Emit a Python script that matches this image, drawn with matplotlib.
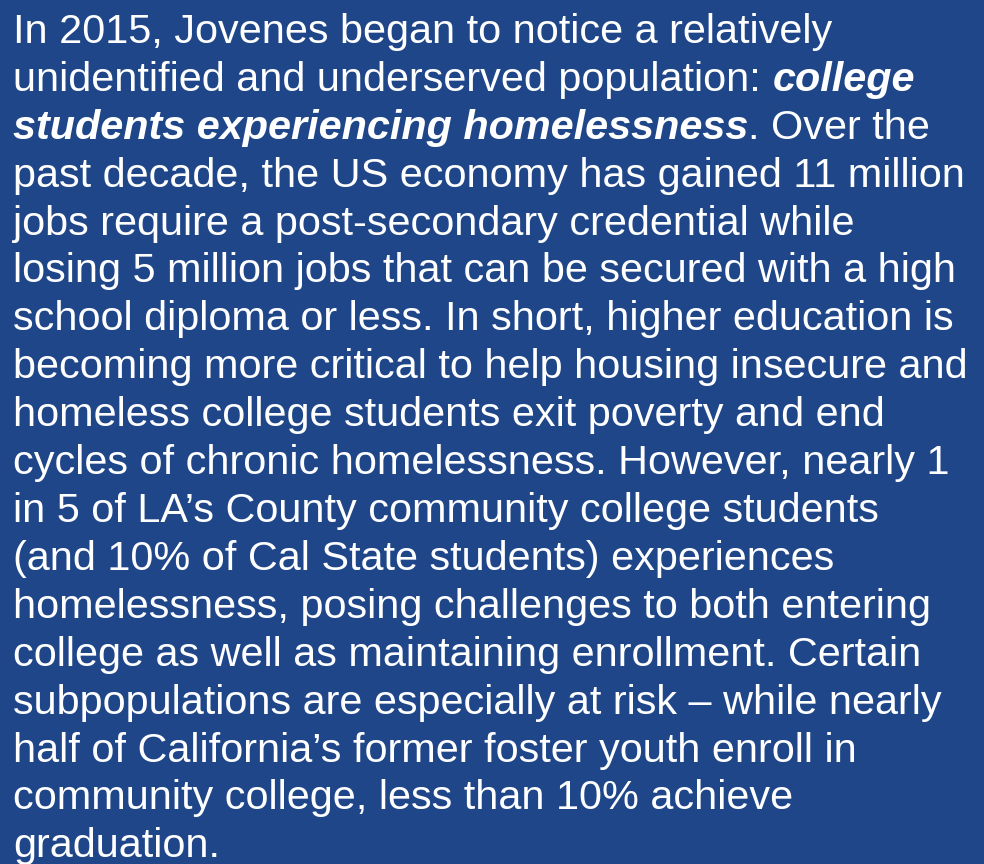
import matplotlib
matplotlib.use("Agg")
import matplotlib.pyplot as plt

# --- text content, one entry per line; each line is a list of (text, style) runs ---
lines = [
    [("In 2015, Jovenes began to notice a relatively", "r")],
    [("unidentified and underserved population: ", "r"), ("college", "bi")],
    [("students experiencing homelessness", "bi"), (". Over the", "r")],
    [("past decade, the US economy has gained 11 million", "r")],
    [("jobs require a post-secondary credential while", "r")],
    [("losing 5 million jobs that can be secured with a high", "r")],
    [("school diploma or less. In short, higher education is", "r")],
    [("becoming more critical to help housing insecure and", "r")],
    [("homeless college students exit poverty and end", "r")],
    [("cycles of chronic homelessness. However, nearly 1", "r")],
    [("in 5 of LA\u2019s County community college students", "r")],
    [("(and 10% of Cal State students) experiences", "r")],
    [("homelessness, posing challenges to both entering", "r")],
    [("college as well as maintaining enrollment. Certain", "r")],
    [("subpopulations are especially at risk \u2013 while nearly", "r")],
    [("half of California\u2019s former foster youth enroll in", "r")],
    [("community college, less than 10% achieve", "r")],
    [("graduation.", "r")],
]

W, H = 984, 864
BG = "#1F4689"
FONT_PX = 41.4
first_baseline = 43
line_step = 47.9
left = 13

fig = plt.figure(figsize=(W / 100, H / 100), dpi=100)
fig.patch.set_facecolor(BG)
renderer = fig.canvas.get_renderer()

for i, runs in enumerate(lines):
    x = left
    y = H - (first_baseline + i * line_step)
    for txt, style in runs:
        t = fig.text(x / W, y / H, txt, color="white",
                     fontsize=FONT_PX * 72 / 100, family="Liberation Sans",
                     fontweight="bold" if style == "bi" else "normal",
                     fontstyle="italic" if style == "bi" else "normal",
                     ha="left", va="baseline")
        bb = t.get_window_extent(renderer=renderer)
        x = bb.x1

fig.savefig("out.png", dpi=100, facecolor=BG)
